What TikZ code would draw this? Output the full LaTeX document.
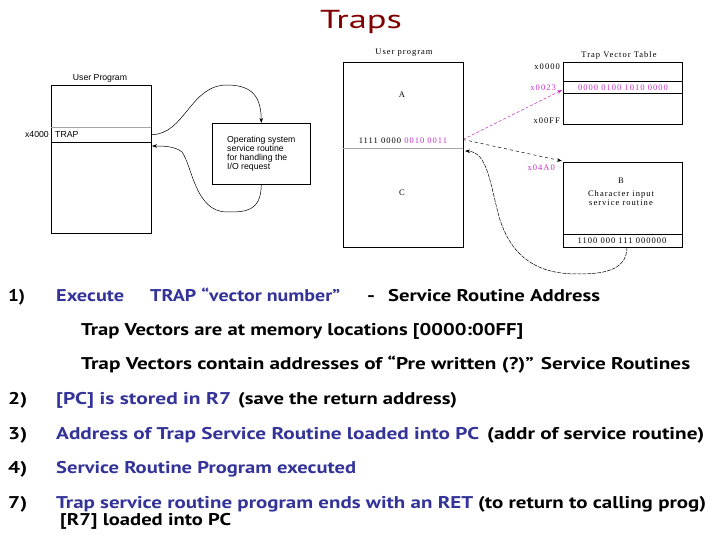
\documentclass[tikz,border=0pt]{standalone}
\usepackage{fontspec}
\usepackage{graphicx}
\setmainfont{PT Sans}
\newfontfamily\lsans{Liberation Sans}
\newfontfamily\lserif[LetterSpace=12]{Liberation Serif}
\usetikzlibrary{arrows.meta}
\definecolor{titlered}{RGB}{128,0,0}
\definecolor{navy}{RGB}{51,51,153}
\definecolor{mag}{RGB}{200,50,200}
\newcommand\fitw[2]{\resizebox{#1}{\height}{#2}}
\tikzset{
  body/.style={anchor=base west, inner sep=0, font=\fontsize{17}{20}\selectfont\bfseries},
  lbl/.style={inner sep=0, font=\lsans\fontsize{8.7}{9}\selectfont},
  rlbl/.style={inner sep=0, font=\lserif\fontsize{8.5}{9}\selectfont},
  membox/.style={draw, line width=0.6pt, inner sep=0, anchor=north west},
  flow/.style={-{Stealth[length=5pt,width=3.5pt]}, line width=0.5pt},
  thinsep/.style={draw=gray!70, line width=0.5pt},
  blacksep/.style={draw, line width=0.6pt},
}
\begin{document}
\begin{tikzpicture}[x=1pt,y=-1pt]
\useasboundingbox[fill=white] (0,0) rectangle (720,540);

% Title
\node[anchor=base, inner sep=0, text=titlered, font=\fontsize{26}{28}\selectfont] (title) at (361,29) {\fitw{82pt}{Traps}};

% ---------- Left diagram ----------
\node[lbl] (uplabel) at (100,78) {User Program};
\node[membox, minimum width=100pt, minimum height=148pt] (upbox) at (51,85) {};
\node[inner sep=0, minimum width=100pt, minimum height=15pt, anchor=north west] (traprow) at (51,127) {};
\draw[thinsep] (traprow.north west) -- (traprow.north east);
\draw[blacksep] (traprow.south west) -- (traprow.south east);
\node[lbl, anchor=west] (traptxt) at (55,134.5) {TRAP};
\node[lbl, anchor=east] (x4000) at (49,134.5) {x4000};
\node[membox, minimum width=98pt, minimum height=61pt, align=left, font=\lsans\fontsize{8.7}{9}\selectfont] (osbox) at (212,123)
  {Operating system\\service routine\\for handling the\\I/O request};
\coordinate (ret1) at (152,146);
\draw[flow] (traprow.east) .. controls (185,134.5) and (190,85) .. (227,85)
  .. controls (255,85) and (261,100) .. (osbox.north);
\draw[flow] (osbox.south) .. controls (261,212) and (245,212) .. (227,212)
  .. controls (195,212) and (192,165) .. (182,152)
  .. controls (175,146) and (162,146) .. (ret1);

% ---------- Right diagram ----------
\node[rlbl] (up2label) at (404,53) {User program};
\node[membox, minimum width=120pt, minimum height=185pt] (up2box) at (343,62) {};
\node[rlbl] (A) at (402,95) {A};
\node[rlbl] (C) at (402,193) {C};
\node[rlbl] (instr) at (403,141) {1111 0000 \textcolor{mag}{0010 0011}};
\draw[thinsep] (343,148) -- (463,148);
\coordinate (callpt) at (463,139.5);

\node[rlbl] (tvtlabel) at (619,55) {Trap Vector Table};
\node[membox, minimum width=119pt, minimum height=62pt] (tvt) at (563,62) {};
\draw[blacksep] (563,81) -- (682,81);
\draw[blacksep] (563,93) -- (682,93);
\node[rlbl, text=mag] (entry) at (623,87.5) {0000 0100 1010 0000};
\coordinate (entrypt) at (562,90);
\node[rlbl, anchor=east] (x0000) at (560,67) {x0000};
\node[rlbl, anchor=east, text=mag] (x0023) at (556,87.5) {x0023};
\node[rlbl, anchor=east] (x00FF) at (560,121) {x00FF};

\node[membox, minimum width=119pt, minimum height=85pt] (bbox) at (563,162) {};
\draw[blacksep] (563,234) -- (682,234);
\node[rlbl] (instrB) at (622,241) {1100 000 111 000000};
\node[rlbl] (Blbl) at (621,181) {B};
\node[rlbl, align=center] (Btxt) at (621,198.5) {Character input\\service routine};
\node[rlbl, anchor=east, text=mag] (x04A0) at (555,168) {x04A0};
\coordinate (bentry) at (562,161);
\coordinate (bexit) at (627,247);
\coordinate (ret2) at (465,151);

\draw[flow, draw=mag, densely dashed] (callpt) -- (entrypt);
\draw[flow, dashed] (callpt) -- (bentry);
\draw[flow, dash pattern=on 4pt off 1pt] (bexit) .. controls (627,272) and (600,274) .. (577,274)
  .. controls (530,274) and (510,250) .. (500,220)
  .. controls (490,185) and (488,152) .. (ret2);

% ---------- Text ----------
\node[body] (n1) at (8,301) {\fitw{17pt}{1)}};
\node[body, text=navy] (l1a) at (56,301) {\fitw{68pt}{Execute}};
\node[body, text=navy] (l1b) at (150,301) {\fitw{190pt}{TRAP “vector number”}};
\node[body] (l1c) at (367,301) {\fitw{8pt}{-}};
\node[body] (l1d) at (388,301) {\fitw{212pt}{Service Routine Address}};
\node[body] (l2) at (81,335) {\fitw{442pt}{Trap Vectors are at memory locations [0000:00FF]}};
\node[body] (l3) at (81,369) {\fitw{609pt}{Trap Vectors contain addresses of “Pre written (?)” Service Routines}};

\node[body] (n2) at (8,404) {\fitw{19pt}{2)}};
\node[body, text=navy] (l4a) at (56,404) {\fitw{175pt}{[PC] is stored in R7}};
\node[body] (l4b) at (238,404) {\fitw{219pt}{(save the return address)}};

\node[body] (n3) at (8,439) {\fitw{19pt}{3)}};
\node[body, text=navy] (l5a) at (56,439) {\fitw{423pt}{Address of Trap Service Routine loaded into PC}};
\node[body] (l5b) at (487,439) {\fitw{217pt}{(addr of service routine)}};

\node[body] (n4) at (8,473) {\fitw{19pt}{4)}};
\node[body, text=navy] (l6) at (56,473) {\fitw{300pt}{Service Routine Program executed}};

\node[body] (n7) at (8,508) {\fitw{19pt}{7)}};
\node[body, text=navy] (l7a) at (56,508) {\fitw{417pt}{Trap service routine program ends with an RET}};
\node[body] (l7b) at (478,508) {\fitw{228pt}{(to return to calling prog)}};
\node[body] (l8) at (60,525) {\fitw{171pt}{[R7] loaded into PC}};
\end{tikzpicture}
\end{document}
